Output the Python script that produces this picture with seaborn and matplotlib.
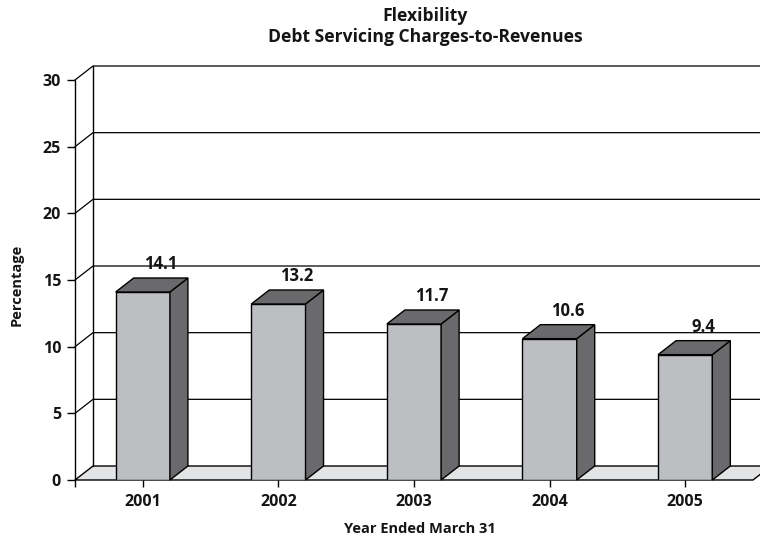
import matplotlib
matplotlib.use("Agg")
import matplotlib.pyplot as plt
from matplotlib.patches import Polygon
from matplotlib.lines import Line2D
from matplotlib.transforms import IdentityTransform
import seaborn as sns
import pandas as pd

years = ["2001", "2002", "2003", "2004", "2005"]
values = [14.1, 13.2, 11.7, 10.6, 9.4]
y_ticks = [0, 5, 10, 15, 20, 25, 30]

title_lines = ["Flexibility", "Debt Servicing Charges-to-Revenues"]
x_label = "Year Ended March 31"
y_label = "Percentage"

FRONT = "#bdbec2"
DARK = "#6a6a6c"
FLOOR = "#e3e4e6"
INK = "#151515"
DX, DY = 18, 14  # depth offset in pixels

sns.set_theme(style="white")
plt.rcParams["font.family"] = ["Open Sans", "DejaVu Sans"]
plt.rcParams["font.weight"] = "bold"

fig = plt.figure(figsize=(7.6, 5.38), dpi=100)
W, H = 760, 538
ax = fig.add_axes([75 / W, (H - 480) / H, (753 - 75) / W, 400 / H])

df = pd.DataFrame({"year": years, "value": values})
sns.barplot(data=df, x="year", y="value", color=FRONT, saturation=1,
            width=0.4, edgecolor="black", linewidth=1.0, ax=ax, zorder=5)

ax.set_xlim(-0.5, len(years) - 0.5)
ax.set_ylim(0, 30)
for s in ax.spines.values():
    s.set_visible(False)
ax.set_facecolor("none")
ax.set_xlabel("")
ax.set_ylabel("")


def P(x, y, back=False):
    px, py = ax.transData.transform((x, y))
    if back:
        px, py = px + DX, py + DY
    return (px, py)


def poly(pts, z, **kw):
    p = Polygon(pts, closed=True, transform=IdentityTransform(), clip_on=False,
                zorder=z, **kw)
    ax.add_artist(p)


def line(pts, z, **kw):
    xs, ys = zip(*pts)
    ax.add_artist(Line2D(xs, ys, transform=IdentityTransform(), clip_on=False,
                         zorder=z, **kw))


x0, x1 = -0.5, len(years) - 0.5

# back wall grid with its diagonal ties to the front axis
for t in y_ticks[1:]:
    line([P(x0, t), P(x0, t, True), P(x1 + 0.2, t, True)], 0.5,
         color="black", linewidth=0.9)

# floor
poly([P(x0, 0), P(x1, 0), P(x1, 0, True), P(x0, 0, True)], 1,
     facecolor=FLOOR, edgecolor="black", linewidth=1.0)
line([P(x1, 0, True), P(x1 + 0.2, 0, True)], 1, color="black", linewidth=1.0)

# front axis and back wall left edge
for back in (False, True):
    line([P(x0, 0, back), P(x0, 30, back)], 2, color="black", linewidth=1.0)

# side and top faces of each bar
for bar in ax.patches[:len(values)]:
    bx0 = bar.get_x()
    bx1 = bx0 + bar.get_width()
    h = bar.get_height()
    poly([P(bx1, 0), P(bx1, h), P(bx1, h, True), P(bx1, 0, True)], 6,
         facecolor=DARK, edgecolor="black", linewidth=1.0)
    poly([P(bx0, h), P(bx1, h), P(bx1, h, True), P(bx0, h, True)], 6,
         facecolor=DARK, edgecolor="black", linewidth=1.0)

# value labels
for i, v in enumerate(values):
    ax.annotate(f"{v:.1f}", xy=(i, v), xytext=(DX, 28), textcoords="offset pixels",
                ha="center", va="center", fontsize=12, fontweight="bold",
                color=INK, zorder=7)

ax.set_yticks(y_ticks)
ax.set_xticks(range(len(years)))
ax.set_xticklabels(years)
ax.set_xticks([x0], minor=True)
ax.tick_params(axis="y", which="major", left=True, length=6, width=1, color="black",
               labelsize=11.5, pad=4, labelcolor=INK)
ax.tick_params(axis="x", which="both", bottom=True, length=5, width=1, color="black",
               labelsize=11.5, pad=5, labelcolor=INK)
for lab in ax.get_xticklabels() + ax.get_yticklabels():
    lab.set_fontweight("bold")

fig.text(420 / W, 1 - 529 / H, x_label, ha="center", va="center",
         fontsize=10.5, fontweight="bold", color=INK)
fig.text(17 / W, 1 - 285 / H, y_label, ha="center", va="center", rotation=90,
         fontsize=10.5, fontweight="bold", color=INK)

fig.text(425 / W, 1 - 16 / H, title_lines[0], ha="center", va="center",
         fontsize=12.6, fontweight="bold", color=INK)
fig.text(425 / W, 1 - 37 / H, title_lines[1], ha="center", va="center",
         fontsize=12.6, fontweight="bold", color=INK)

fig.savefig("out.png", dpi=100)
